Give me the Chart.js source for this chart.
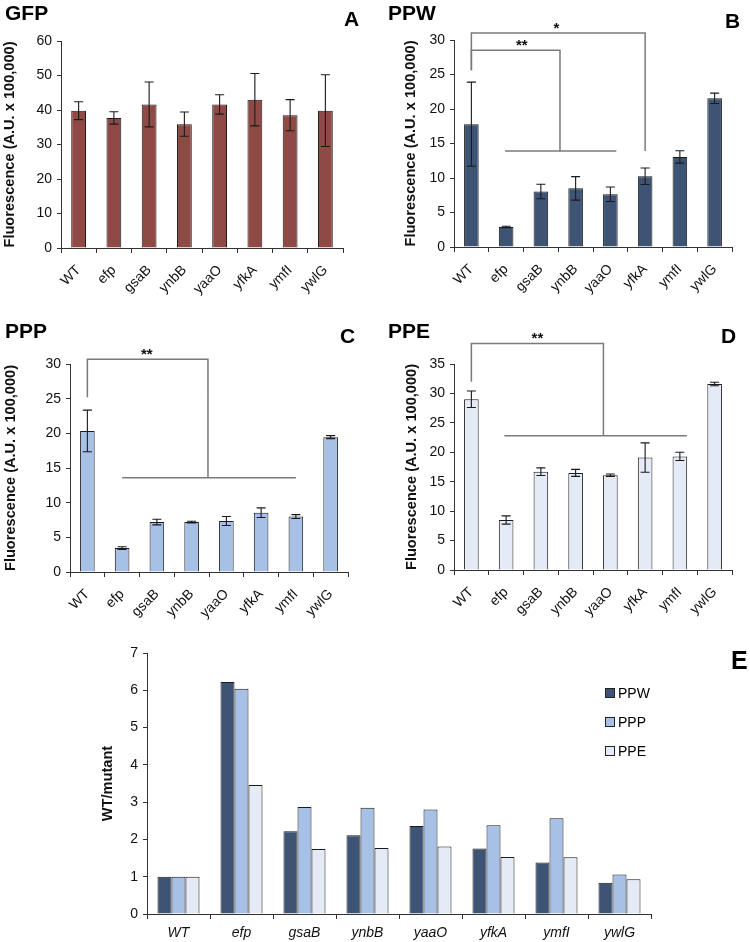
<!DOCTYPE html>
<html lang="en">
<head>
<meta charset="utf-8" />
<title>Fluorescence of efp and paralog mutants</title>
<script src="https://cdn.jsdelivr.net/npm/chart.js@4.4.0/dist/chart.umd.min.js"></script>
<style>
  body { margin: 0; background: #fff; }
  #page { position: relative; width: 750px; height: 942px; overflow: hidden; background: #fff;
          font-family: "Liberation Sans", Arial, sans-serif; color: #000; }
  #page canvas { position: absolute; }
  .tag { position: absolute; font-weight: bold; line-height: 1; white-space: nowrap; }
  .legend { position: absolute; left: 605px; top: 686px; font-size: 14px; line-height: 1; }
  .legend div { height: 29px; display: flex; align-items: flex-start; }
  .legend span.box { display: inline-block; width: 8px; height: 8px; border: 1px solid #222; margin: 2px 3px 0 0; }
</style>
</head>
<body>
<div id="page">
  <canvas id="cE" width="750" height="332" style="left:0;top:610px"></canvas>
  <canvas id="cA" width="375" height="310" style="left:0;top:0"></canvas>
  <canvas id="cB" width="375" height="310" style="left:375px;top:0"></canvas>
  <canvas id="cC" width="375" height="322" style="left:0;top:310px"></canvas>
  <canvas id="cD" width="375" height="322" style="left:375px;top:310px"></canvas>

  <div class="tag" style="left:5px;top:2px;font-size:21px">GFP</div>
  <div class="tag" style="left:344px;top:8px;font-size:21px">A</div>
  <div class="tag" style="left:388px;top:2px;font-size:21px">PPW</div>
  <div class="tag" style="left:725px;top:10px;font-size:21px">B</div>
  <div class="tag" style="left:5px;top:320px;font-size:21px">PPP</div>
  <div class="tag" style="left:340px;top:325px;font-size:21px">C</div>
  <div class="tag" style="left:388px;top:320px;font-size:21px">PPE</div>
  <div class="tag" style="left:721px;top:325px;font-size:21px">D</div>
  <div class="tag" style="left:731px;top:648px;font-size:25px">E</div>
  <div class="legend" id="legendE"></div>
</div>

<script>
  // strains on the x axis of every panel
  const strains = ["WT", "efp", "gsaB", "ynbB", "yaaO", "yfkA", "ymfI", "ywlG"];

  // fluorescence (A.U. x 100,000), mean and error
  const gfpMean = [39.8, 37.7, 41.6, 35.9, 41.6, 43.0, 38.5, 39.8];
  const gfpErr = [2.6, 1.8, 6.5, 3.5, 2.8, 7.6, 4.5, 10.4];
  const ppwMean = [17.8, 2.9, 8.05, 8.5, 7.65, 10.25, 13.05, 21.55];
  const ppwErr = [6.1, 0.1, 1.05, 1.7, 1.05, 1.2, 0.9, 0.75];
  const pppMean = [20.35, 3.45, 7.2, 7.2, 7.35, 8.55, 8.0, 19.45];
  const pppErr = [3.0, 0.2, 0.4, 0.12, 0.65, 0.7, 0.28, 0.22];
  const ppeMean = [29.0, 8.5, 16.7, 16.5, 16.1, 19.1, 19.3, 31.6];
  const ppeErr = [1.4, 0.7, 0.65, 0.6, 0.2, 2.5, 0.7, 0.3];

  // WT/mutant ratios (panel E)
  const ratioSeries = ["PPW", "PPP", "PPE"];
  const ratioPPW = [1, 6.22, 2.22, 2.11, 2.36, 1.76, 1.38, 0.84];
  const ratioPPP = [1, 6.04, 2.87, 2.85, 2.80, 2.38, 2.57, 1.06];
  const ratioPPE = [1, 3.46, 1.74, 1.77, 1.81, 1.53, 1.52, 0.93];

  // significance brackets, x in category units, y in axis units
  const ppwBrackets = [
    { left: 0, leftFrom: 25.6, right: 5, rightTo: 13.9, top: 31.0, label: "*", labelAt: 2.45 },
    { left: 0, leftFrom: 25.6, right: 2.55, rightTo: 13.9, top: 28.5, label: "**", labelAt: 1.45 },
  ];
  const ppwBase = [{ from: 0.97, to: 4.17, y: 13.9 }];
  const pppBrackets = [{ left: 0, leftFrom: 25.2, right: 3.47, rightTo: 13.6, top: 30.7, label: "**", labelAt: 1.71 }];
  const pppBase = [{ from: 1.0, to: 6.0, y: 13.6 }];
  const ppeBrackets = [{ left: 0, leftFrom: 32.0, right: 3.8, rightTo: 22.8, top: 38.5, label: "**", labelAt: 1.9 }];
  const ppeBase = [{ from: 0.95, to: 6.2, y: 22.8 }];

  const FONT = "'Liberation Sans', Arial, sans-serif";
  const AXIS = "#333";
  const colors = { gfp: "#8f4a45", ppw: "#3e5475", ppp: "#a7c0e6", ppe: "#e4ebf6" };

  const errorBars = {
    id: "errorBars",
    afterDatasetsDraw(chart, args, opts) {
      if (!opts.errors) return;
      const ctx = chart.ctx;
      const y = chart.scales.y;
      const vals = chart.data.datasets[0].data;
      ctx.save();
      ctx.strokeStyle = "#1a1a1a";
      ctx.lineWidth = 1.1;
      chart.getDatasetMeta(0).data.forEach((bar, i) => {
        const top = y.getPixelForValue(vals[i] + opts.errors[i]);
        const bot = y.getPixelForValue(vals[i] - opts.errors[i]);
        ctx.beginPath();
        ctx.moveTo(bar.x, top); ctx.lineTo(bar.x, bot);
        ctx.moveTo(bar.x - 4.5, top); ctx.lineTo(bar.x + 4.5, top);
        ctx.moveTo(bar.x - 4.5, bot); ctx.lineTo(bar.x + 4.5, bot);
        ctx.stroke();
      });
      ctx.restore();
    },
  };

  const brackets = {
    id: "brackets",
    afterDatasetsDraw(chart, args, opts) {
      if (!opts.items) return;
      const ctx = chart.ctx;
      const x = chart.scales.x, y = chart.scales.y;
      const x0 = x.getPixelForValue(0);
      const step = x.getPixelForValue(1) - x0;
      const px = (f) => x0 + f * step;
      ctx.save();
      ctx.strokeStyle = "#7a7a7a";
      ctx.lineWidth = 1.5;
      opts.items.forEach((b) => {
        const t = y.getPixelForValue(b.top);
        ctx.beginPath();
        ctx.moveTo(px(b.left), y.getPixelForValue(b.leftFrom));
        ctx.lineTo(px(b.left), t);
        ctx.lineTo(px(b.right), t);
        ctx.lineTo(px(b.right), y.getPixelForValue(b.rightTo));
        ctx.stroke();
        ctx.fillStyle = "#111";
        ctx.font = "bold 15px " + FONT;
        ctx.textAlign = "center";
        ctx.textBaseline = "alphabetic";
        ctx.fillText(b.label, px(b.labelAt), t);
      });
      (opts.base || []).forEach((l) => {
        const yy = y.getPixelForValue(l.y);
        ctx.beginPath();
        ctx.moveTo(px(l.from), yy);
        ctx.lineTo(px(l.to), yy);
        ctx.stroke();
      });
      ctx.restore();
    },
  };

  function axes(p) {
    return {
      x: {
        afterFit: (s) => { s.height = p.xh; },
        grid: { display: true, drawOnChartArea: false, drawTicks: true, tickLength: 5, color: AXIS, offset: true },
        border: { display: true, color: AXIS, width: 1 },
        ticks: {
          color: "#111", padding: p.xpad, minRotation: p.rot, maxRotation: p.rot, autoSkip: false,
          font: { family: FONT, size: 14, style: p.xstyle },
        },
      },
      y: {
        min: 0, max: p.max,
        afterFit: (s) => { s.width = p.yw; },
        grid: { display: true, drawOnChartArea: false, tickLength: 4, color: AXIS },
        border: { display: true, color: AXIS, width: 1 },
        ticks: { stepSize: p.step, color: "#111", padding: 5, font: { family: FONT, size: 14 } },
        title: {
          display: true, text: p.title, color: "#111",
          font: { family: FONT, size: 14.6, weight: "bold" },
          padding: { top: p.tpad, bottom: 0 },
        },
      },
    };
  }

  function makePanel(id, values, errs, color, p, items, base) {
    new Chart(document.getElementById(id), {
      type: "bar",
      data: {
        labels: strains,
        datasets: [{
          data: values, backgroundColor: color, borderColor: "#1a1a1a", borderWidth: 1,
          barPercentage: 0.42, categoryPercentage: 1,
        }],
      },
      options: {
        responsive: false, animation: false,
        layout: { padding: { top: p.top, right: p.right, left: 0, bottom: 0 } },
        plugins: {
          legend: { display: false }, tooltip: { enabled: false },
          errorBars: { errors: errs },
          brackets: { items: items, base: base },
        },
        scales: axes(Object.assign({ rot: 45, xstyle: "normal", xpad: 9, title: "Fluorescence (A.U. x 100,000)" }, p)),
      },
      plugins: [errorBars, brackets],
    });
  }

  makePanel("cA", gfpMean, gfpErr, colors.gfp,
    { top: 41, right: 32, yw: 61, xh: 62, max: 60, step: 10, tpad: 1.2 }, null, null);
  makePanel("cB", ppwMean, ppwErr, colors.ppw,
    { top: 40, right: 18, yw: 79, xh: 63, max: 30, step: 5, tpad: 27.6 }, ppwBrackets, ppwBase);
  makePanel("cC", pppMean, pppErr, colors.ppp,
    { top: 54, right: 27, yw: 70, xh: 60, max: 30, step: 5, tpad: 2.2 }, pppBrackets, pppBase);
  makePanel("cD", ppeMean, ppeErr, colors.ppe,
    { top: 54, right: 18, yw: 79, xh: 62, max: 35, step: 5, tpad: 28.2 }, ppeBrackets, ppeBase);

  // panel E: grouped ratios
  const ratioColors = [colors.ppw, colors.ppp, colors.ppe];
  const ratioData = [ratioPPW, ratioPPP, ratioPPE];
  new Chart(document.getElementById("cE"), {
    type: "bar",
    data: {
      labels: strains,
      datasets: ratioSeries.map((name, k) => ({
        label: name, data: ratioData[k], backgroundColor: ratioColors[k],
        borderColor: "#1a1a1a", borderWidth: 1, barPercentage: 1, categoryPercentage: 0.667,
      })),
    },
    options: {
      responsive: false, animation: false,
      layout: { padding: { top: 43, right: 99, left: 0, bottom: 0 } },
      plugins: { legend: { display: false }, tooltip: { enabled: false } },
      scales: axes({ yw: 147, xh: 28, max: 7, step: 1, tpad: 99.2,
                     rot: 0, xstyle: "italic", xpad: 6, title: "WT/mutant" }),
    },
  });

  const legend = document.getElementById("legendE");
  ratioSeries.forEach((name, k) => {
    const row = document.createElement("div");
    row.innerHTML = '<span class="box" style="background:' + ratioColors[k] + '"></span>' + name;
    legend.appendChild(row);
  });
</script>
</body>
</html>
